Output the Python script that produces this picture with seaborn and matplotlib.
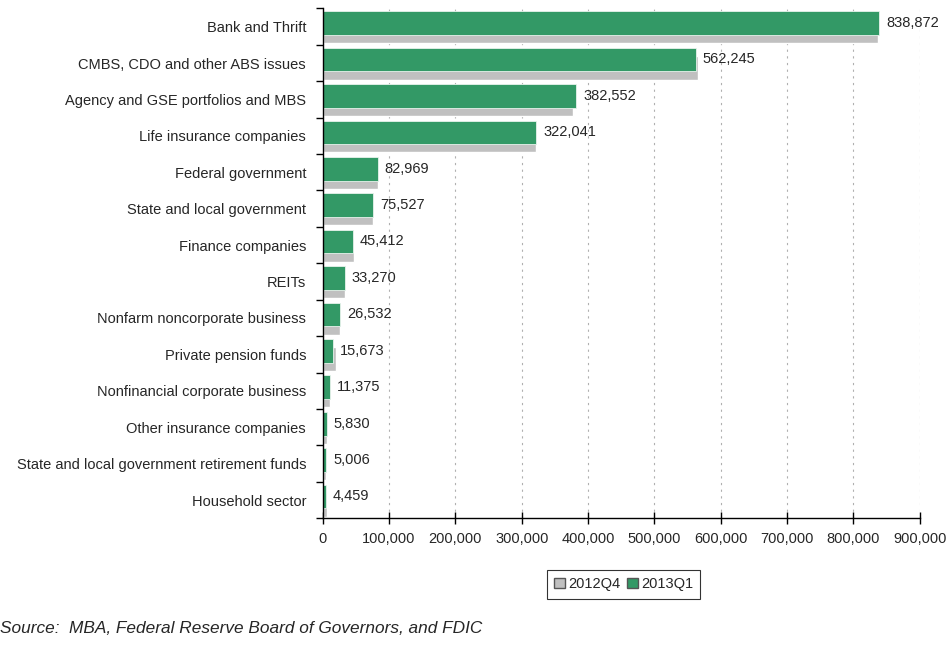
import pandas as pd
import matplotlib.pyplot as plt
import seaborn as sns
from matplotlib.patches import Patch
from matplotlib.ticker import FuncFormatter

# data
holders = ['Bank and Thrift', 'CMBS, CDO and other ABS issues', 'Agency and GSE portfolios and MBS',
           'Life insurance companies', 'Federal government', 'State and local government',
           'Finance companies', 'REITs', 'Nonfarm noncorporate business', 'Private pension funds',
           'Nonfinancial corporate business', 'Other insurance companies',
           'State and local government retirement funds', 'Household sector']
q4_2012 = [836500, 566500, 377700, 322000, 83000, 75500, 47400, 33300, 26500, 20700, 11400, 5830, 5006, 6500]
q1_2013 = [838872, 562245, 382552, 322041, 82969, 75527, 45412, 33270, 26532, 15673, 11375, 5830, 5006, 4459]

df = pd.DataFrame({'holder': holders, '2012Q4': q4_2012, '2013Q1': q1_2013})

sns.set_style('white')
plt.rcParams['font.family'] = ['Liberation Sans', 'DejaVu Sans']

green = '#339966'
grey = '#c0c0c0'
h = 0.65
fs = 10.5

fig = plt.figure(figsize=(9.52, 6.47), dpi=100)
ax = fig.add_axes([0.339, 0.199, 0.627, 0.788])

# grey (older quarter) first so it sits behind, then shift it down a bit
sns.barplot(data=df, y='holder', x='2012Q4', color=grey, width=h, saturation=1, ax=ax, orient='h')
n = len(ax.patches)
sns.barplot(data=df, y='holder', x='2013Q1', color=green, width=h, saturation=1, ax=ax, orient='h')
for i, p in enumerate(ax.patches):
    if i < n:
        p.set_y(p.get_y() + 0.13)
    else:
        p.set_y(p.get_y() - 0.095)
        p.set_edgecolor('#e8f3ec')
        p.set_linewidth(0.6)

# value labels
for i, v in enumerate(q1_2013):
    ax.annotate(f'{v:,}', (v, i - 0.1), xytext=(5, 0), textcoords='offset points',
                va='center', ha='left', fontsize=fs)

ax.set_xlim(0, 900000)
ax.set_ylim(13.5, -0.5)
ax.set_xticks(range(0, 900001, 100000))
ax.xaxis.set_major_formatter(FuncFormatter(lambda x, _: f'{int(x):,}'))
ax.set_xlabel('')
ax.set_ylabel('')

ax.grid(axis='x', color='#b0b0b0', linestyle=(0, (2, 4)), linewidth=0.8)
ax.set_axisbelow(True)
for s in ['top', 'right']:
    ax.spines[s].set_visible(False)
for s in ['left', 'bottom']:
    ax.spines[s].set_color('black')
    ax.spines[s].set_linewidth(1)

ax.tick_params(axis='x', bottom=True, direction='inout', length=8, width=1, color='black', pad=6, labelsize=fs)
ax.tick_params(axis='y', left=True, length=0, pad=12, labelsize=fs)
ax.set_yticks([i + 0.5 for i in range(-1, 14)], minor=True)
ax.tick_params(axis='y', which='minor', left=True, length=5, width=1, color='black', direction='out')

handles = [Patch(facecolor=grey, edgecolor='#555555'), Patch(facecolor=green, edgecolor='#555555')]
leg = fig.legend(handles, ['2012Q4', '2013Q1'], loc='center', bbox_to_anchor=(0.655, 0.097),
                 ncol=2, fontsize=fs, frameon=True, fancybox=False, edgecolor='black',
                 handlelength=0.75, handleheight=0.75, handletextpad=0.2, columnspacing=0.5,
                 borderpad=0.5, borderaxespad=0)
leg.get_frame().set_linewidth(0.8)

fig.text(0.0, 0.017, 'Source:  MBA, Federal Reserve Board of Governors, and FDIC',
         fontsize=12.4, style='italic', ha='left', va='bottom')

fig.savefig('out.png', dpi=100)
